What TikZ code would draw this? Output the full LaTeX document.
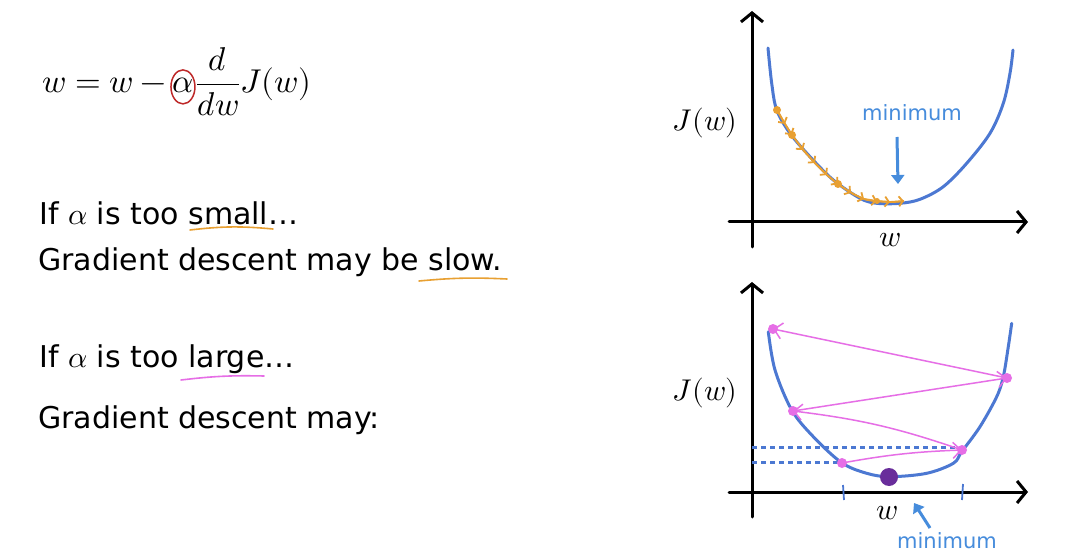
\documentclass[tikz,border=0pt]{standalone}
\usepackage{fontspec}
\usepackage{unicode-math}
\setmainfont{DejaVu Sans}
\setmathfont{Latin Modern Math}
\usetikzlibrary{arrows.meta}
\definecolor{curveblue}{RGB}{76,120,210}
\definecolor{labelblue}{RGB}{70,140,220}
\definecolor{orng}{RGB}{232,160,50}
\definecolor{pnk}{RGB}{230,110,230}
\definecolor{purp}{RGB}{105,45,155}
\definecolor{redc}{RGB}{190,40,40}
\begin{document}
\begin{tikzpicture}[x=1pt,y=-1pt,
  txt/.style={anchor=base west, inner sep=0pt, font=\fontsize{30}{36}\selectfont},
  eqn/.style={anchor=base west, inner sep=0pt, font=\fontsize{33}{38}\selectfont},
  axlab/.style={inner sep=0pt, font=\fontsize{30}{34}\selectfont},
  minlab/.style={inner sep=0pt, text=labelblue, font=\fontsize{21}{25}\selectfont},
  axis/.style={line width=3pt, line cap=round, -{Straight Barb[length=9pt,width=22pt]}},
  curve/.style={line width=3pt, curveblue, line cap=round},
  underl/.style={line width=1.6pt, line cap=round},
  ostep/.style={orng, line width=1.8pt, -{Straight Barb[length=4pt,width=10pt]}},
  parrow/.style={pnk, line width=1.5pt, -{Straight Barb[length=8pt,width=16pt]}},
  pdot/.style={circle, fill=pnk, inner sep=0pt, minimum size=10pt},
  dotl/.style={curveblue, line width=3pt, dash pattern=on 5pt off 4pt},
  tick/.style={curveblue, line width=1.8pt},
  marrow/.style={labelblue, line width=3pt, -{Triangle[length=9pt,width=13pt]}}
]
\useasboundingbox (0,0) rectangle (1080,556);
\fill[white] (0,0) rectangle (1080,556);

% ---------- equation ----------
\node[eqn] (eqL) at (42,93) {$w = w -{}$};
\node[eqn] (alpha) at ([xshift=-2pt]eqL.base east) {$\alpha$};
\node[eqn] (eqR) at ([xshift=2pt]alpha.base east) {$\dfrac{d}{dw}J(w)$};
\draw[redc, line width=1.5pt] ([yshift=-1pt]alpha.center) ellipse [x radius=12, y radius=17];

% ---------- text ----------
\node[txt] (t1) at (39,225) {If $\alpha$ is too small…};
\node[txt] (t2) at (38,271) {Gradient descent may be slow.};
\node[txt] (t3) at (39,367) {If $\alpha$ is too large…};
\node[txt] (t4) at (38,428) {Gradient descent may:};

\coordinate (u1a) at (190,230); \coordinate (u1b) at (273,229);
\coordinate (u2a) at (419,281); \coordinate (u2b) at (507,279);
\coordinate (u3a) at (181,380); \coordinate (u3b) at (264,376);
\draw[underl, orng] (u1a) to[bend left=6] (u1b);
\draw[underl, orng] (u2a) to[bend left=4] (u2b);
\draw[underl, pnk] (u3a) to[bend left=4] (u3b);

% ---------- top graph ----------
\coordinate (ty0) at (752,247); \coordinate (ty1) at (752,11);
\coordinate (tx0) at (729,222); \coordinate (tx1) at (1028,222);
\draw[axis] (ty0) -- (ty1);
\draw[axis] (tx0) -- (tx1);
\node[axlab] (tJ) at (705,123) {$J(w)$};
\node[axlab] (tw) at (890,240) {$w$};

\draw[curve] plot[smooth, tension=0.55] coordinates {(768,48) (771.7,83.3) (776.7,110) (790,133.3) (810,156.7) (833.3,180) (860,198.3) (876.7,203.3) (900,203.3) (920,199.3) (943.3,186.7) (966.7,163.3) (990,133.3) (1003.3,103.3) (1010,73.3) (1013,50)};

% orange small steps
\coordinate (o1) at (777,110);
\coordinate (o2) at (785,124);
\coordinate (o3) at (792,135);
\coordinate (o4) at (803,150);
\coordinate (o5) at (815,163);
\coordinate (o6) at (827,175);
\coordinate (o7) at (838,184);
\coordinate (o8) at (851,193);
\coordinate (o9) at (864,199);
\coordinate (o10) at (877,201);
\coordinate (o11) at (890,202);
\coordinate (o12) at (904,201);
\draw[orng, line width=1.8pt] plot[smooth] coordinates {(o1) (o3) (o5) (o7) (o9) (o11) (o12)};
\foreach \a/\b in {o1/o2,o2/o3,o3/o4,o4/o5,o5/o6,o6/o7,o7/o8,o8/o9,o9/o10,o10/o11,o11/o12}
  \draw[ostep] (\a) -- (\b);
\fill[orng] (o1) circle (4pt) (o3) circle (4pt) (o7) circle (4pt) (o10) circle (3pt);

\node[minlab] (tmin) at (912,113) {minimum};
\coordinate (tm0) at (897,137); \coordinate (tm1) at (898,184);
\draw[marrow] (tm0) -- (tm1);

% ---------- bottom graph ----------
\coordinate (by0) at (752,517); \coordinate (by1) at (752,282);
\coordinate (bx0) at (729,492); \coordinate (bx1) at (1028,492);
\draw[axis] (by0) -- (by1);
\draw[axis] (bx0) -- (bx1);
\node[axlab] (bJ) at (705,393) {$J(w)$};
\node[axlab] (bw) at (887,513) {$w$};

\coordinate (yl1) at (752,447); \coordinate (yl2) at (752,462);
\draw[dotl] (yl1) -- (958,447);
\draw[dotl] (yl2) -- (840,462);

\draw[curve] plot[smooth, tension=0.55] coordinates {(768.3,331.7) (775,370) (791.7,410) (813.3,436.7) (841.7,462.7) (866.7,473.3) (890,476.7) (926.7,473.3) (953.3,463.3) (961.7,451.7) (980,426.7) (996.7,396.7) (1003.3,376.7) (1008.3,346.7) (1011.7,323.3)};

\coordinate (tk1a) at (843,485); \coordinate (tk1b) at (844,500);
\coordinate (tk2a) at (963,484); \coordinate (tk2b) at (962,500);
\draw[tick] (tk1a) -- (tk1b);
\draw[tick] (tk2a) -- (tk2b);

\node[pdot] (P1) at (773,329) {};
\node[pdot] (P2) at (1007,378) {};
\node[pdot] (P3) at (793,411) {};
\node[pdot] (P4) at (962,450) {};
\node[pdot] (P5) at (842,463) {};
\draw[parrow] (P5.center) to[bend left=4] (P4.center);
\draw[parrow] (P4.center) to[bend right=6] (P3.center);
\draw[parrow] (P3.center) -- (P2.center);
\draw[parrow] (P2.center) -- (P1.center);

\node[circle, fill=purp, inner sep=0pt, minimum size=18pt] (mdot) at (889,477) {};

\node[minlab] (bmin) at (947,541) {minimum};
\coordinate (bm0) at (930,528); \coordinate (bm1) at (914,503);
\draw[marrow] (bm0) -- (bm1);
\end{tikzpicture}
\end{document}
